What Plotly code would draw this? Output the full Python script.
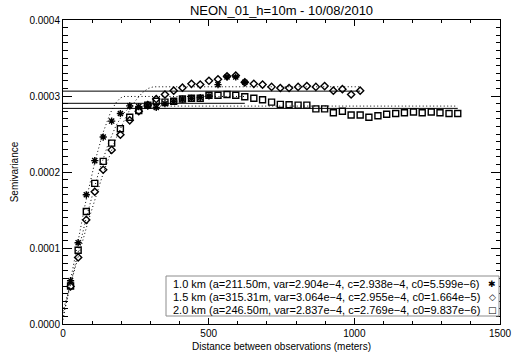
import numpy as np
import plotly.graph_objects as go

# ---- data ----
lags = [26, 52, 80, 109, 138, 167, 197, 229, 260, 291, 320, 350, 380, 410, 441,
        471, 501, 532, 563, 593, 624, 655, 685, 716, 746, 776, 807, 837, 868, 898,
        928, 959, 989, 1020, 1050, 1081, 1111, 1142, 1172, 1203, 1233, 1264, 1294,
        1325, 1355]

gamma_1km = [0.57, 1.07, 1.70, 2.15, 2.46, 2.67, 2.77, 2.87, 2.86, 2.87, 2.85,
             2.90, 2.93, 2.96, 2.97, 2.98, 3.00, 3.15, 3.25, 3.25, 3.18]
gamma_15km = [0.495, 0.876, 1.37, 1.74, 2.03, 2.29, 2.49, 2.68, 2.80, 2.88, 2.96,
              3.02, 3.07, 3.11, 3.16, 3.15, 3.20, 3.22, 3.26, 3.27, 3.18, 3.16,
              3.15, 3.12, 3.105, 3.105, 3.12, 3.13, 3.12, 3.13, 3.07, 3.09, 3.02, 3.07]
gamma_2km = [0.50, 0.97, 1.48, 1.85, 2.14, 2.38, 2.57, 2.72, 2.81, 2.88, 2.93, 2.92,
             2.93, 2.96, 2.97, 2.97, 3.01, 3.01, 3.02, 3.01, 2.99, 2.97, 2.95, 2.92,
             2.89, 2.885, 2.88, 2.88, 2.83, 2.83, 2.78, 2.80, 2.75, 2.75, 2.72, 2.74,
             2.76, 2.77, 2.78, 2.79, 2.78, 2.79, 2.78, 2.77, 2.77]

series_names = ["1.0 km", "1.5 km", "2.0 km"]
range_a = [211.50, 315.31, 246.50]
var_vals = [2.904e-4, 3.064e-4, 2.837e-4]
c_vals = [2.938e-4, 2.955e-4, 2.769e-4]
c0_vals = [5.599e-6, 1.664e-5, 9.837e-6]
symbols = ["asterisk-open", "diamond-open", "square-open"]
legend_glyphs = ["\u2731", "\u25C7", "\u25A1"]

x_ticks = [0, 500, 1000, 1500]
y_ticks = [0.0, 0.0001, 0.0002, 0.0003, 0.0004]
y_tick_text = ["0.0000", "0.0001", "0.0002", "0.0003", "0.0004"]

title_text = "NEON_01_h=10m - 10/08/2010"
x_title = "Distance between observations (meters)"
y_title = "Semivariance"

FONT = "Liberation Sans, Arial, Helvetica, sans-serif"

fig = go.Figure()

all_gammas = [gamma_1km, gamma_15km, gamma_2km]
marker_sizes = [6, 5.5, 6]

for i, g in enumerate(all_gammas):
    xs = lags[:len(g)]
    hmax = xs[-1]
    # sill (variance) line
    fig.add_trace(go.Scatter(x=[0, hmax], y=[var_vals[i], var_vals[i]], mode="lines",
                             line=dict(color="black", width=1), showlegend=False,
                             hoverinfo="skip"))
    # spherical model fit
    h = np.linspace(0, hmax, 400)
    a = range_a[i]
    model = np.where(h < a, c0_vals[i] + c_vals[i] * (1.5 * h / a - 0.5 * (h / a) ** 3),
                     c0_vals[i] + c_vals[i])
    fig.add_trace(go.Scatter(x=h, y=model, mode="lines",
                             line=dict(color="black", width=1, dash="1px,2.5px"),
                             showlegend=False, hoverinfo="skip"))

for i, g in enumerate(all_gammas):
    xs = lags[:len(g)]
    ys = [v * 1e-4 for v in g]
    fig.add_trace(go.Scatter(x=xs, y=ys, mode="markers", name=series_names[i],
                             marker=dict(symbol=symbols[i], size=marker_sizes[i],
                                         color="black",
                                         line=dict(color="black", width=1.4)),
                             showlegend=False))

# invisible trace to create mirrored axes (top / right) with minor ticks
fig.add_trace(go.Scatter(x=[None], y=[None], xaxis="x2", yaxis="y2",
                         showlegend=False, hoverinfo="skip"))

# legend box + text
PH = 304.0
def py(pix):
    return (324.0 - pix) / PH

fig.add_shape(type="rect", xref="paper", yref="paper",
              x0=(166 - 63) / 437, x1=(499 - 63) / 437, y0=py(316), y1=py(276),
              line=dict(color="#8c8c8c", width=1), fillcolor="white", layer="above")

row_pix = [283.5, 296.5, 309.5]
for i in range(3):
    txt = (f"{series_names[i]} (a={range_a[i]:.2f}m, var={var_vals[i]:.3e}, "
           f"c={c_vals[i]:.3e}, c0={c0_vals[i]:.3e})")
    txt = txt.replace("e-0", "e-").replace("-", "\u2212")
    fig.add_annotation(xref="paper", yref="paper", x=(171 - 63) / 437, y=py(row_pix[i]),
                       text=txt, showarrow=False, xanchor="left", yanchor="middle",
                       font=dict(family=FONT, size=11, color="black"))
    fig.add_annotation(xref="paper", yref="paper", x=(492 - 63) / 437, y=py(row_pix[i]),
                       text=legend_glyphs[i], showarrow=False, xanchor="center",
                       yanchor="middle",
                       font=dict(family="DejaVu Sans", size=9, color="black"))

axis_common = dict(showline=True, linecolor="black", linewidth=1, showgrid=False,
                   zeroline=False, automargin=False, tickcolor="black", tickwidth=1,
                   ticks="inside")

fig.update_layout(
    width=529, height=361,
    margin=dict(l=63, r=29, t=20, b=37, autoexpand=False),
    paper_bgcolor="white", plot_bgcolor="white",
    font=dict(family=FONT, size=10, color="black"),
    title=dict(text=title_text, x=(63 + 500) / 2 / 529, xanchor="center",
               y=1 - 10 / 361, yanchor="middle",
               font=dict(family=FONT, size=13, color="black")),
    showlegend=False,
    xaxis=dict(range=[0, 1500], tickvals=x_ticks, ticktext=[str(v) for v in x_ticks],
               ticklen=6, minor=dict(ticks="inside", ticklen=3, dtick=100,
                                     tickcolor="black", showgrid=False),
               title=dict(text=x_title, standoff=4, font=dict(size=10)),
               tickfont=dict(size=10), **axis_common),
    yaxis=dict(range=[0, 0.0004], tickvals=y_ticks, ticktext=y_tick_text,
               ticklen=9, minor=dict(ticks="inside", ticklen=4.5, dtick=0.00001,
                                     tickcolor="black", showgrid=False),
               title=dict(text=y_title, standoff=8, font=dict(size=10)),
               tickfont=dict(size=10), **axis_common),
    xaxis2=dict(range=[0, 1500], overlaying="x", side="top", tickvals=x_ticks,
                showticklabels=False, ticklen=6,
                minor=dict(ticks="inside", ticklen=3, dtick=100, tickcolor="black",
                           showgrid=False), **axis_common),
    yaxis2=dict(range=[0, 0.0004], overlaying="y", side="right", tickvals=y_ticks,
                showticklabels=False, ticklen=9,
                minor=dict(ticks="inside", ticklen=4.5, dtick=0.00001,
                           tickcolor="black", showgrid=False), **axis_common),
)

fig.write_html("out.html",
               config={"displayModeBar": False, "staticPlot": True},
               post_script="document.body.style.margin='0';"
                           "document.body.style.overflow='hidden';")
